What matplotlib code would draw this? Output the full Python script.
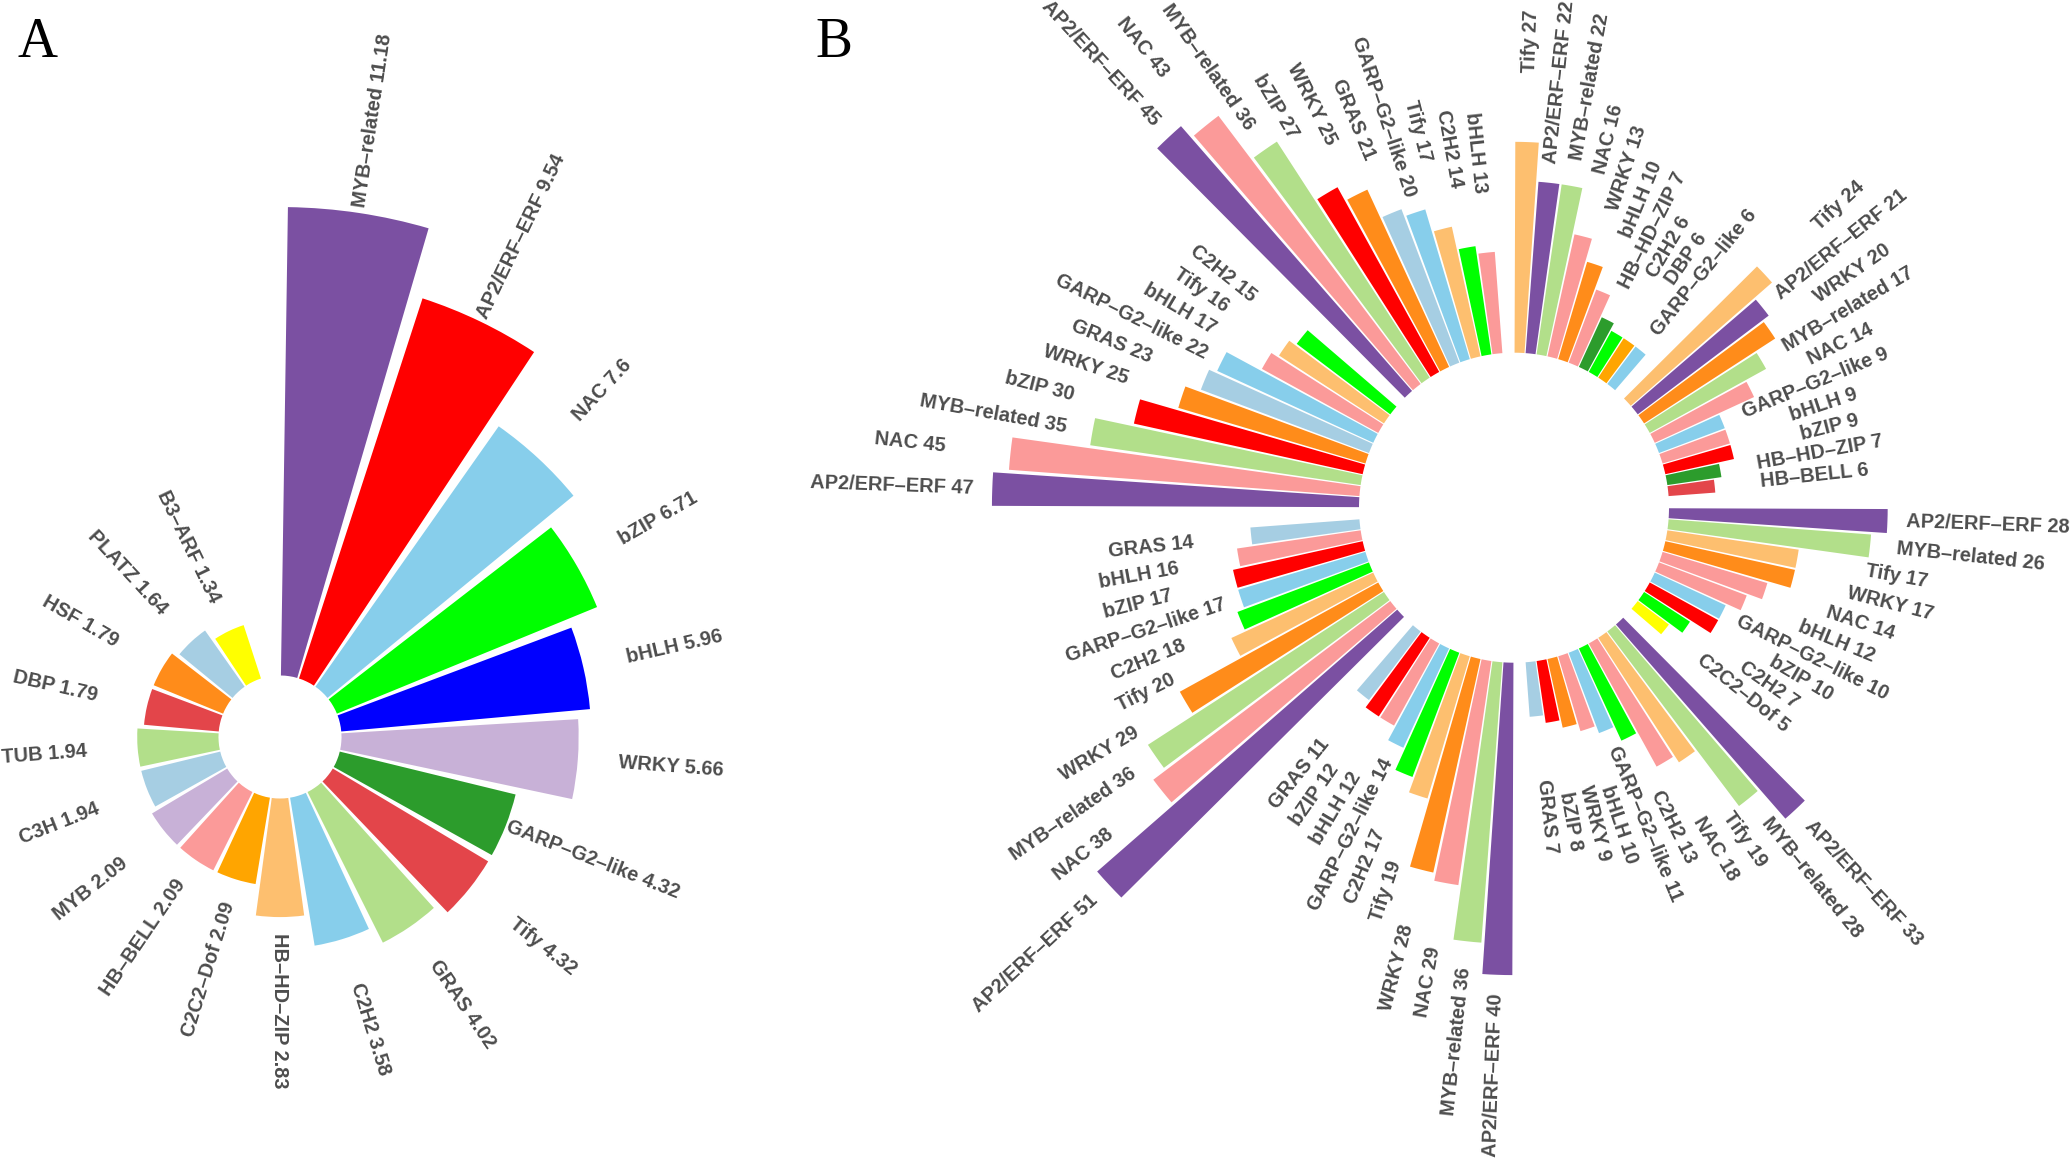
import numpy as np
import matplotlib
matplotlib.use("Agg")
import matplotlib.pyplot as plt

# ---------------- Panel A data (clockwise from top) ----------------
a_families = ["MYB-related", "AP2/ERF-ERF", "NAC", "bZIP", "bHLH", "WRKY",
              "GARP-G2-like", "Tify", "GRAS", "C2H2", "HB-HD-ZIP", "C2C2-Dof",
              "HB-BELL", "MYB", "C3H", "TUB", "DBP", "HSF", "PLATZ", "B3-ARF"]
a_values = [11.18, 9.54, 7.6, 6.71, 5.96, 5.66, 4.32, 4.32, 4.02, 3.58, 2.83,
            2.09, 2.09, 2.09, 1.94, 1.94, 1.79, 1.79, 1.64, 1.34]
a_colors = ["#7B50A2", "#FF0000", "#87CEEB", "#00FF00", "#0000FF", "#C8B1D7",
            "#2C9C2C", "#E3454A", "#B2DF8A", "#87CEEB", "#FDBF6F", "#FFA500",
            "#FB9A99", "#C8B1D7", "#A6CEE3", "#B2DF8A", "#E3454A", "#FF8C1A",
            "#A6CEE3", "#FFFF00"]

# ---------------- Panel B data (8 groups, clockwise from top) ----------------
b_g1_families = ["Tify", "AP2/ERF-ERF", "MYB-related", "NAC", "WRKY", "bHLH",
                 "HB-HD-ZIP", "C2H2", "DBP", "GARP-G2-like"]
b_g1_values = [27, 22, 22, 16, 13, 10, 7, 6, 6, 6]
b_g2_families = ["Tify", "AP2/ERF-ERF", "WRKY", "MYB-related", "NAC",
                 "GARP-G2-like", "bHLH", "bZIP", "HB-HD-ZIP", "HB-BELL"]
b_g2_values = [24, 21, 20, 17, 14, 9, 9, 9, 7, 6]
b_g3_families = ["AP2/ERF-ERF", "MYB-related", "Tify", "WRKY", "NAC", "bHLH",
                 "GARP-G2-like", "bZIP", "C2H2", "C2C2-Dof"]
b_g3_values = [28, 26, 17, 17, 14, 12, 10, 10, 7, 5]
b_g4_families = ["AP2/ERF-ERF", "MYB-related", "Tify", "NAC", "C2H2",
                 "GARP-G2-like", "bHLH", "WRKY", "bZIP", "GRAS"]
b_g4_values = [33, 28, 19, 18, 13, 11, 10, 9, 8, 7]
b_g5_families = ["AP2/ERF-ERF", "MYB-related", "NAC", "WRKY", "Tify", "C2H2",
                 "GARP-G2-like", "bHLH", "bZIP", "GRAS"]
b_g5_values = [40, 36, 29, 28, 19, 17, 14, 12, 12, 11]
b_g6_families = ["AP2/ERF-ERF", "NAC", "MYB-related", "WRKY", "Tify", "C2H2",
                 "GARP-G2-like", "bZIP", "bHLH", "GRAS"]
b_g6_values = [51, 38, 36, 29, 20, 18, 17, 17, 16, 14]
b_g7_families = ["AP2/ERF-ERF", "NAC", "MYB-related", "bZIP", "WRKY", "GRAS",
                 "GARP-G2-like", "bHLH", "Tify", "C2H2"]
b_g7_values = [47, 45, 35, 30, 25, 23, 22, 17, 16, 15]
b_g8_families = ["AP2/ERF-ERF", "NAC", "MYB-related", "bZIP", "WRKY", "GRAS",
                 "GARP-G2-like", "Tify", "C2H2", "bHLH"]
b_g8_values = [45, 43, 36, 27, 25, 21, 20, 17, 14, 13]

b_color_map = {
    "AP2/ERF-ERF": "#7B50A2", "NAC": "#FB9A99", "MYB-related": "#B2DF8A",
    "bZIP": "#FF0000", "WRKY": "#FF8C1A", "GRAS": "#A6CEE3",
    "GARP-G2-like": "#87CEEB", "Tify": "#FDBF6F", "bHLH": "#FB9A99",
    "C2H2": "#00FF00", "HB-HD-ZIP": "#2C9C2C", "DBP": "#FFA500",
    "HB-BELL": "#E3454A", "C2C2-Dof": "#FFFF00",
}

b_groups = [(b_g1_families, b_g1_values), (b_g2_families, b_g2_values),
            (b_g3_families, b_g3_values), (b_g4_families, b_g4_values),
            (b_g5_families, b_g5_values), (b_g6_families, b_g6_values),
            (b_g7_families, b_g7_values), (b_g8_families, b_g8_values)]

# ---------------- figure ----------------
W, H = 2070, 1158
fig = plt.figure(figsize=(W / 100, H / 100), dpi=100)
fig.patch.set_facecolor("white")

LABEL_KW = dict(fontsize=14.4, fontweight="bold", color="#4D4D4D",
                family=["Liberation Sans", "DejaVu Sans"],
                ha="center", va="center", rotation_mode="anchor")


def polar_axes(cx, cy, hole_px, k, rmax):
    R = hole_px + rmax * k
    ax = fig.add_axes([(cx - R) / W, 1 - (cy + R) / H, 2 * R / W, 2 * R / H],
                      projection="polar")
    ax.set_theta_zero_location("N")
    ax.set_theta_direction(-1)
    ax.set_rorigin(-hole_px / k)
    ax.set_ylim(0, rmax)
    ax.set_axis_off()
    return ax


def label_rotation(theta_deg):
    if theta_deg < 180 + 1e-6:
        return 90 - theta_deg
    return 270 - theta_deg


def pretty(name):
    return name.replace("-", "\u2013")


# ---------------- Panel A ----------------
axA = polar_axes(280, 737, 61.5, 41.9, 11.6)
nA = len(a_values) + 1  # one empty slot
slotA = 2 * np.pi / nA
thetaA = (np.arange(len(a_values)) + 0.5) * slotA
axA.bar(thetaA, a_values, width=slotA * 0.9, bottom=0, color=a_colors,
        edgecolor="none", clip_on=False)
for th, v, name in zip(thetaA, a_values, a_families):
    deg = np.degrees(th)
    axA.text(th, v + 2.24, f"{pretty(name)} {v:g}",
             rotation=label_rotation(deg), **LABEL_KW)

# ---------------- Panel B ----------------
axB = polar_axes(1514, 507.7, 155, 7.81, 52.5)
per_group = max(len(v) for _, v in b_groups) + 1  # one empty slot per group
nB = per_group * len(b_groups)
slotB = 2 * np.pi / nB
for g, (fams, vals) in enumerate(b_groups):
    idx = g * per_group + np.arange(len(vals))
    th = (idx + 0.5) * slotB
    cols = [b_color_map[f] for f in fams]
    axB.bar(th, vals, width=slotB * 0.9, bottom=0, color=cols,
            edgecolor="none", clip_on=False)
    for t, v, name in zip(th, vals, fams):
        deg = np.degrees(t)
        axB.text(t, v + 12.9, f"{pretty(name)} {v:g}",
                 rotation=label_rotation(deg), **LABEL_KW)

# ---------------- panel letters ----------------
fig.text(17 / W, 1 - 57 / H, "A", fontsize=40, family=["Liberation Serif"],
         ha="left", va="baseline", color="black")
fig.text(815 / W, 1 - 57 / H, "B", fontsize=40, family=["Liberation Serif"],
         ha="left", va="baseline", color="black")

fig.savefig("out.png", dpi=100, facecolor="white")
